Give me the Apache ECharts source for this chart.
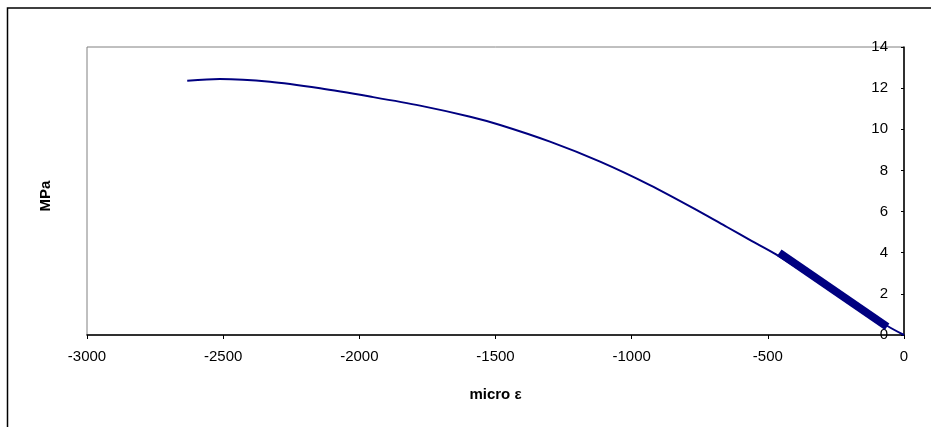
<!DOCTYPE html>
<html>
<head>
<meta charset="utf-8">
<script src="https://cdn.jsdelivr.net/npm/echarts@6/dist/echarts.min.js"></script>
<style>
  html, body { margin: 0; padding: 0; background: #fff; }
  #chart { width: 931px; height: 427px; }
</style>
</head>
<body>
<div id="chart"></div>
<script>
// envelope curve (micro strain, MPa)
var envStrain = [-2632, -2512, -2328, -2144, -1961, -1777, -1593, -1483, -1300, -1116, -933, -749, -650, -560, -470, -62, 0]
var envStress = [12.36, 12.44, 12.31, 11.99, 11.59, 11.15, 10.61, 10.21, 9.40, 8.43, 7.29, 5.99, 5.25, 4.58, 3.92, 0.45, 0]

// thick band of load cycles near the origin
var cycStrain = [-458, -62]
var cycStress = [4.00, 0.40]

var xTicks = { min: -3000, max: 0, step: 500 }
var yTicks = { min: 0, max: 14, step: 2 }

function pairs(xs, ys) {
  var out = []
  for (var i = 0; i < xs.length; i++) out.push([xs[i], ys[i]])
  return out
}

var font = 'Liberation Sans, Arial, sans-serif'
var myChart = echarts.init(document.getElementById('chart'), null, { renderer: 'canvas' })
myChart.setOption({
  animation: false,
  backgroundColor: '#fff',
  grid: {
    left: 87,
    right: 27,
    top: 47,
    bottom: 92,
    show: true,
    borderColor: '#808080',
    borderWidth: 1,
    backgroundColor: '#fff'
  },
  xAxis: {
    type: 'value',
    min: xTicks.min,
    max: xTicks.max,
    interval: xTicks.step,
    name: 'micro ε',
    nameLocation: 'middle',
    nameGap: 52,
    nameTextStyle: { fontFamily: font, fontSize: 15, fontWeight: 'bold', color: '#000' },
    axisLine: { lineStyle: { color: '#000', width: 1.5 } },
    axisTick: { length: 4, lineStyle: { color: '#000' } },
    axisLabel: {
      fontFamily: font,
      fontSize: 15,
      color: '#000',
      margin: 14,
      formatter: function (v) { return String(v) }
    },
    splitLine: { show: false }
  },
  yAxis: {
    type: 'value',
    position: 'right',
    min: yTicks.min,
    max: yTicks.max,
    interval: yTicks.step,
    axisLine: { show: true, onZero: false, lineStyle: { color: '#000', width: 1.5 } },
    axisTick: { show: true, inside: true, length: 3, lineStyle: { color: '#000' } },
    axisLabel: { inside: true, fontFamily: font, fontSize: 15, color: '#000', margin: 16 },
    splitLine: { show: false }
  },
  graphic: [
    {
      type: 'rect',
      shape: { x: 7.5, y: 8, width: 1000, height: 1000 },
      style: { fill: 'none', stroke: '#000', lineWidth: 1.5 },
      silent: true,
      z: -10
    },
    {
      type: 'text',
      x: 46,
      y: 196,
      rotation: Math.PI / 2,
      style: {
        text: 'MPa',
        fontFamily: font,
        fontSize: 15,
        fontWeight: 'bold',
        fill: '#000',
        align: 'center',
        verticalAlign: 'middle'
      }
    }
  ],
  series: [
    {
      name: 'envelope',
      type: 'line',
      data: pairs(envStrain, envStress),
      smooth: 0.3,
      showSymbol: false,
      lineStyle: { color: '#000080', width: 2 }
    },
    {
      name: 'cycles',
      type: 'line',
      data: pairs(cycStrain, cycStress),
      showSymbol: false,
      lineStyle: { color: '#000080', width: 8, cap: 'butt' }
    }
  ]
})
</script>
</body>
</html>
